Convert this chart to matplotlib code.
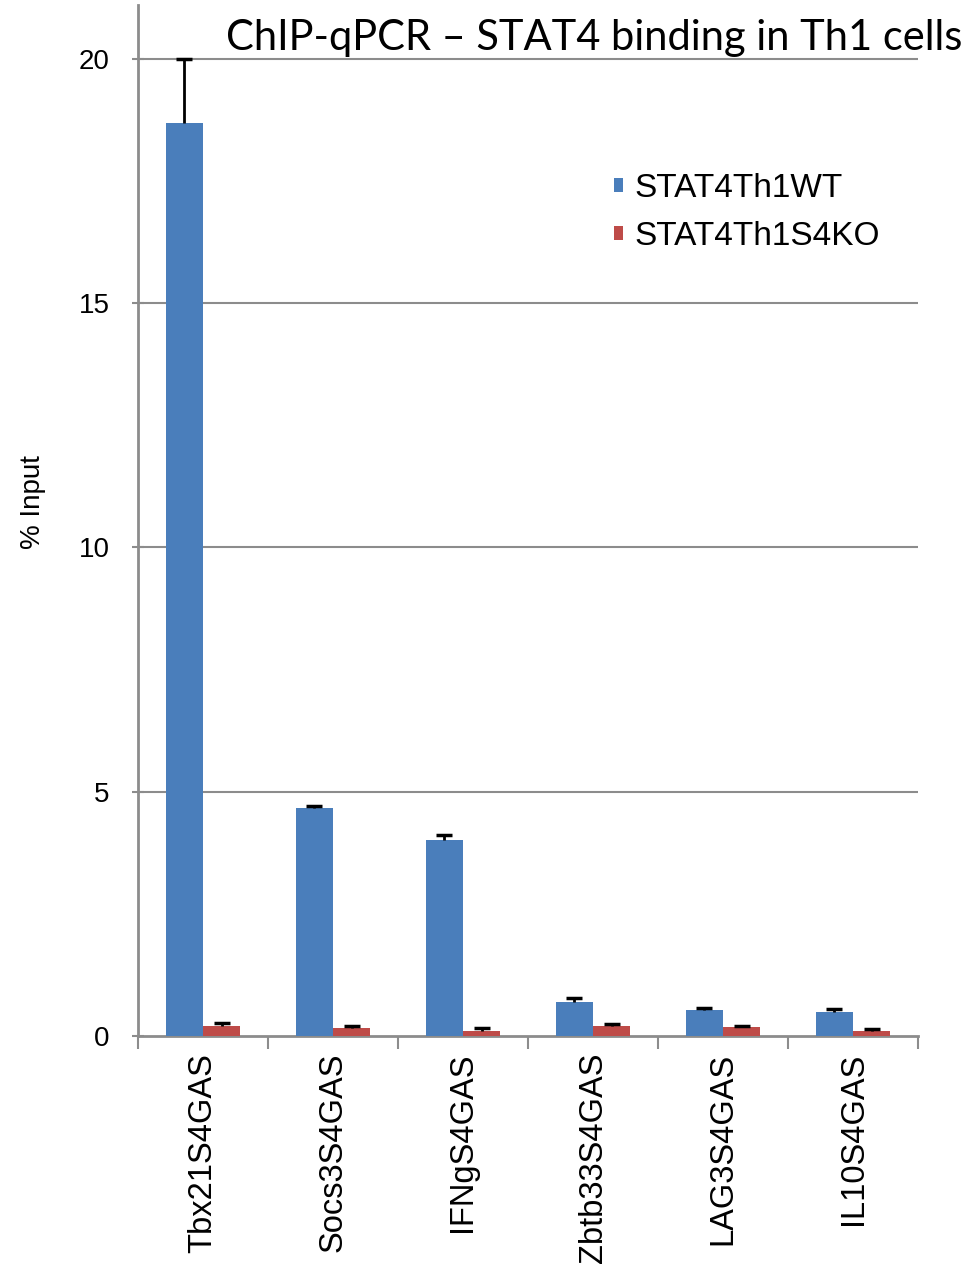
import numpy as np
import matplotlib.pyplot as plt

# ChIP-qPCR, % input per GAS site
sites = ["Tbx21S4GAS", "Socs3S4GAS", "IFNgS4GAS", "Zbtb33S4GAS", "LAG3S4GAS", "IL10S4GAS"]
wt = [18.69, 4.67, 4.01, 0.70, 0.53, 0.50]
wt_err = [1.31, 0.04, 0.10, 0.08, 0.04, 0.05]
ko = [0.21, 0.16, 0.11, 0.20, 0.18, 0.11]
ko_err = [0.06, 0.04, 0.05, 0.04, 0.03, 0.04]

blue = "#4a7ebb"
red = "#be4b48"
grid_c = "#8c8c8c"
sans = ["Liberation Sans", "DejaVu Sans"]

fig = plt.figure(figsize=(9.73, 12.77), dpi=100)
ax = fig.add_axes([0.1418, 0.1887, 0.8017, 0.8074])

x = np.arange(len(sites))
w = 0.285
ax.bar(x - w / 2, wt, w, color=blue, label="STAT4Th1WT", zorder=3)
ax.bar(x + w / 2, ko, w, color=red, label="STAT4Th1S4KO", zorder=3)

# upper-only error bars with a cap at the top end
for xs, vals, errs in [(x - w / 2, wt, wt_err), (x + w / 2, ko, ko_err)]:
    vals = np.array(vals)
    errs = np.array(errs)
    ax.errorbar(xs, vals, yerr=[np.zeros(len(vals)), errs], fmt="none",
                ecolor="black", elinewidth=2, capsize=0, zorder=4)
    ax.plot(xs, vals + errs, ls="none", marker="_", markersize=11,
            markeredgewidth=2.5, color="black", zorder=4)

ax.set_xlim(-0.5, len(sites) - 0.5)
ax.set_ylim(0, 21.1)
ax.set_yticks([0, 5, 10, 15, 20])
for v in [5, 10, 15, 20]:
    ax.axhline(v, color=grid_c, lw=1.5, zorder=1)

ax.set_xticks(x)
ax.set_xticklabels(sites, rotation=90, fontsize=23.5, family=sans)
ax.set_xticks(np.arange(len(sites) + 1) - 0.5, minor=True)
ax.tick_params(axis="x", which="major", length=0, pad=12)
ax.tick_params(axis="x", which="minor", length=9, width=1.5, color=grid_c, direction="out")
ax.tick_params(axis="y", length=9, width=1.5, color=grid_c, direction="inout", pad=16)
for lab in ax.get_yticklabels():
    lab.set_fontsize(20)
    lab.set_family(sans)

for s in ["top", "right"]:
    ax.spines[s].set_visible(False)
for s in ["left", "bottom"]:
    ax.spines[s].set_color(grid_c)
    ax.spines[s].set_linewidth(2)

ax.set_ylabel("% Input", fontsize=20, family=sans)
ax.yaxis.set_label_coords(-0.118, 0.518)

leg = ax.legend(loc="upper left", bbox_to_anchor=(0.572, 0.866), frameon=False,
                prop={"family": sans, "size": 24},
                handlelength=0.27, handleheight=0.27, handletextpad=0.35,
                labelspacing=0.52)

fig.text(0.989, 0.970, "ChIP-qPCR \u2013 STAT4 binding in Th1 cells",
         ha="right", va="center", fontsize=30, family="Lato")

fig.savefig("out.png", dpi=100)
